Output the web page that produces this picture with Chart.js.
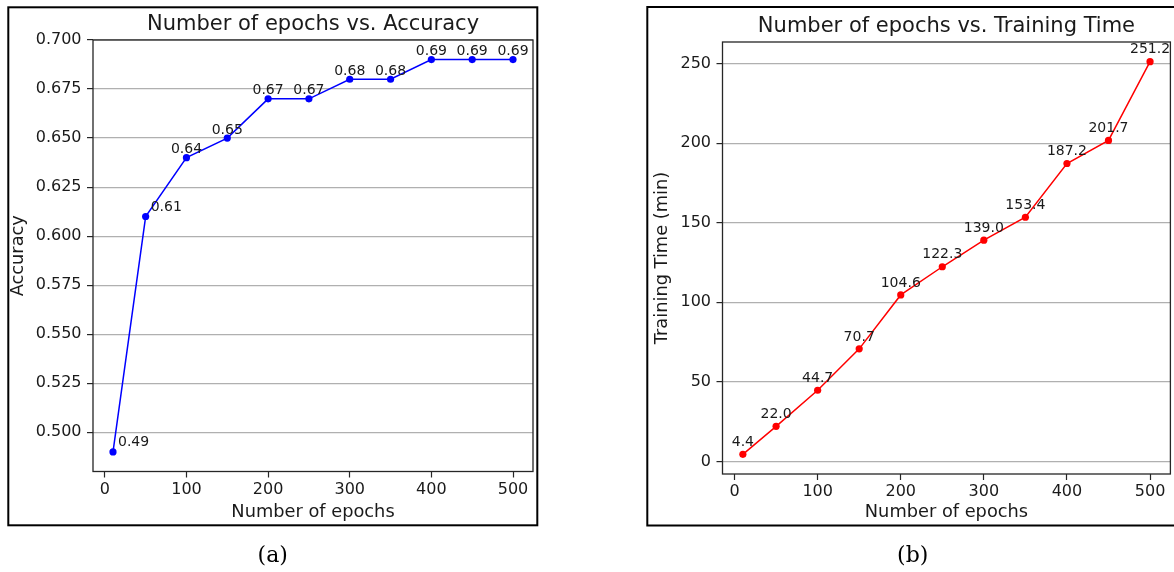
<!DOCTYPE html>
<html>
<head>
<meta charset="utf-8">
<title>Epochs vs. accuracy and training time</title>
<script src="https://cdn.jsdelivr.net/npm/chart.js@4.4.1/dist/chart.umd.min.js"></script>
<style>
  html, body { margin: 0; padding: 0; background: #ffffff; }
  #wrap { position: relative; width: 1174px; height: 572px; overflow: hidden; background: #ffffff; }
  #wrap canvas { position: absolute; top: 0; }
</style>
</head>
<body>
<div id="wrap">
  <canvas id="accChart" width="587" height="572" style="left:0px"></canvas>
  <canvas id="timeChart" width="587" height="572" style="left:587px"></canvas>
</div>
<script>
// Measured results per training length
const epochs = [10, 50, 100, 150, 200, 250, 300, 350, 400, 450, 500];
const accuracy = [0.49, 0.61, 0.64, 0.65, 0.67, 0.67, 0.68, 0.68, 0.69, 0.69, 0.69];
const trainingTime = [4.4, 22.0, 44.7, 70.7, 104.6, 122.3, 139.0, 153.4, 187.2, 201.7, 251.2];

// Tick positions
const epochTicks = [0, 100, 200, 300, 400, 500];
const accuracyTicks = [0.500, 0.525, 0.550, 0.575, 0.600, 0.625, 0.650, 0.675, 0.700];
const timeTicks = [0, 50, 100, 150, 200, 250];

const SANS = '"DejaVu Sans", "Liberation Sans", sans-serif';
const INK = '#1a1a1a';

// Draws the axes box, value labels, panel title, outer frame and caption
const panelDecor = {
  id: 'panelDecor',
  afterDatasetsDraw(chart, args, opts) {
    const ctx = chart.ctx;
    const a = chart.chartArea;
    ctx.save();
    // axes box
    ctx.strokeStyle = '#262626';
    ctx.lineWidth = 1.3;
    ctx.strokeRect(a.left, a.top, a.right - a.left, a.bottom - a.top);

    // value labels next to each point
    ctx.beginPath();
    ctx.rect(a.left, a.top, a.right - a.left, a.bottom - a.top);
    ctx.clip();
    ctx.font = opts.labelFont;
    ctx.fillStyle = INK;
    ctx.textBaseline = 'alphabetic';
    const meta = chart.getDatasetMeta(0);
    const values = chart.data.datasets[0].data;
    meta.data.forEach((pt, i) => {
      const txt = values[i].y.toFixed(opts.decimals);
      if (opts.sideLabels.includes(i)) {
        ctx.textAlign = 'left';
        ctx.fillText(txt, pt.x + opts.sideGap, pt.y - opts.sideLift);
      } else {
        ctx.textAlign = 'center';
        ctx.fillText(txt, pt.x, pt.y - opts.lift);
      }
    });
    ctx.restore();
  },
  afterDraw(chart, args, opts) {
    const ctx = chart.ctx;
    const a = chart.chartArea;
    ctx.save();
    // panel title
    ctx.font = '21px ' + SANS;
    ctx.fillStyle = INK;
    ctx.textAlign = 'center';
    ctx.textBaseline = 'alphabetic';
    ctx.fillText(opts.title, (a.left + a.right) / 2, a.top - 9.7);
    // outer frame
    ctx.strokeStyle = '#000000';
    ctx.lineWidth = 2;
    const f = opts.frame;
    ctx.strokeRect(f[0], f[1], f[2], f[3]);
    // caption
    ctx.font = '22px "DejaVu Serif", "Liberation Serif", serif';
    ctx.fillStyle = '#000000';
    ctx.textBaseline = 'middle';
    ctx.fillText(opts.caption, opts.captionAt[0], opts.captionAt[1]);
    ctx.restore();
  }
};

function makeChart(canvasId, yValues, cfg) {
  const points = epochs.map((e, i) => ({ x: e, y: yValues[i] }));
  return new Chart(document.getElementById(canvasId), {
    type: 'line',
    data: {
      datasets: [{
        data: points,
        borderColor: cfg.color,
        backgroundColor: cfg.color,
        borderWidth: 1.5,
        pointRadius: 3.6,
        pointBorderWidth: 0,
        pointBackgroundColor: cfg.color,
        pointHoverRadius: 3.6,
        tension: 0,
        fill: false
      }]
    },
    options: {
      responsive: false,
      animation: false,
      devicePixelRatio: 1,
      events: [],
      layout: { padding: cfg.padding },
      plugins: {
        legend: { display: false },
        tooltip: { enabled: false },
        title: { display: false },
        panelDecor: cfg.decor
      },
      scales: {
        x: {
          type: 'linear',
          min: -14.5,
          max: 524.5,
          afterBuildTicks: (axis) => { axis.ticks = epochTicks.map(v => ({ value: v })); },
          afterFit: (axis) => { axis.height = cfg.xHeight; },
          grid: { drawOnChartArea: false, drawTicks: true, tickLength: 6, tickColor: '#262626', tickWidth: 1.2 },
          border: { display: false },
          ticks: {
            color: INK,
            font: { family: SANS, size: 16 },
            padding: 2.5,
            maxRotation: 0,
            autoSkip: false,
            callback: (v) => String(v)
          },
          title: {
            display: true,
            text: 'Number of epochs',
            color: INK,
            font: { family: SANS, size: 17.8 },
            padding: { top: 0, bottom: 9.3 }
          }
        },
        y: {
          type: 'linear',
          min: cfg.yMin,
          max: cfg.yMax,
          afterBuildTicks: (axis) => { axis.ticks = cfg.yTicks.map(v => ({ value: v })); },
          afterFit: (axis) => { axis.width = cfg.yWidth; },
          grid: { color: '#b0b0b0', lineWidth: 1.2, drawTicks: true, tickLength: 6, tickColor: '#262626', tickWidth: 1.2 },
          border: { display: false },
          ticks: {
            color: INK,
            font: { family: SANS, size: 16 },
            padding: 5.5,
            autoSkip: false,
            callback: (v) => v.toFixed(cfg.yDecimals)
          },
          title: {
            display: true,
            text: cfg.yTitle,
            color: INK,
            font: { family: SANS, size: 17.8 },
            padding: { top: cfg.yTitlePad, bottom: 0 }
          }
        }
      }
    },
    plugins: [panelDecor]
  });
}

makeChart('accChart', accuracy, {
  color: '#0000ff',
  padding: { top: 40, right: 54, bottom: 40, left: 0 },
  xHeight: 60.5,
  yWidth: 93,
  yMin: 0.48,
  yMax: 0.70,
  yTicks: accuracyTicks,
  yDecimals: 3,
  yTitle: 'Accuracy',
  yTitlePad: 8,
  decor: {
    title: 'Number of epochs vs. Accuracy',
    caption: '(a)',
    captionAt: [272.7, 556],
    frame: [8.3, 7.3, 529, 518],
    labelFont: '14px ' + SANS,
    decimals: 2,
    lift: 4.5,
    sideLabels: [0, 1],
    sideGap: 5,
    sideLift: 5.5
  }
});

makeChart('timeChart', trainingTime, {
  color: '#ff0000',
  padding: { top: 42, right: 1.5, bottom: 40, left: 0 },
  xHeight: 58,
  yWidth: 135.5,
  yMin: -7.94,
  yMax: 263.54,
  yTicks: timeTicks,
  yDecimals: 0,
  yTitle: 'Training Time (min)',
  yTitlePad: 65,
  decor: {
    title: 'Number of epochs vs. Training Time',
    caption: '(b)',
    captionAt: [325.7, 556],
    frame: [60.3, 7, 600, 518.5],
    labelFont: '14px ' + SANS,
    decimals: 1,
    lift: 8.3,
    sideLabels: [],
    sideGap: 5,
    sideLift: 5.5
  }
});
</script>
</body>
</html>
